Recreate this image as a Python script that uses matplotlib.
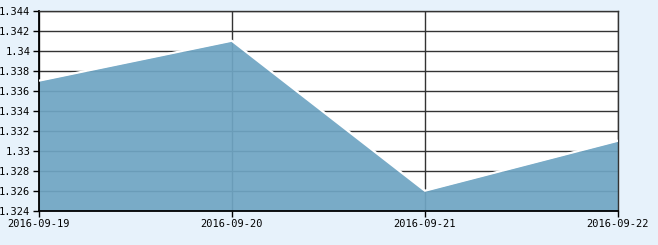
import matplotlib
matplotlib.use("Agg")
import matplotlib.pyplot as plt
import numpy as np

dates = ["2016-09-19", "2016-09-20", "2016-09-21", "2016-09-22"]
values = [1.337, 1.341, 1.326, 1.331]
y_ticks = [1.324, 1.326, 1.328, 1.330, 1.332, 1.334, 1.336, 1.338, 1.340, 1.342, 1.344]

bg = "#e7f2fb"
fill = "#6fa5c3"
grid = "#333333"

fig = plt.figure(figsize=(6.58, 2.45), dpi=100, facecolor=bg)
ax = fig.add_axes([38.7 / 658, 1 - 210.7 / 245, (618 - 38.7) / 658, 200 / 245])
ax.set_facecolor("white")

x = np.arange(len(dates))
ax.set_xlim(0, len(dates) - 1)
ax.set_ylim(y_ticks[0], y_ticks[-1])

# grid first, then a slightly transparent area over it
for yv in y_ticks:
    ax.axhline(yv, color=grid, lw=1, zorder=1)
for xv in x:
    ax.axvline(xv, color=grid, lw=1, zorder=1)

ax.fill_between(x, values, y_ticks[0], color=fill, alpha=0.93, lw=0, zorder=2)
ax.plot(x, values, color="white", lw=1.6, zorder=3)

ax.set_xticks(x)
ax.set_xticklabels(dates)
ax.set_yticks(y_ticks)
ax.set_yticklabels([f"{v:.3f}".rstrip("0") for v in y_ticks])
ax.tick_params(direction="out", length=4, width=1, color="black", pad=2,
               labelsize=7.5, labelcolor="black")
for lab in ax.get_xticklabels() + ax.get_yticklabels():
    lab.set_family("DejaVu Sans Mono")

for side in ["top", "right"]:
    ax.spines[side].set_color(grid)
    ax.spines[side].set_linewidth(1)
for side in ["left", "bottom"]:
    ax.spines[side].set_color("black")
    ax.spines[side].set_linewidth(1.3)

fig.savefig("out.png", dpi=100, facecolor=bg)
